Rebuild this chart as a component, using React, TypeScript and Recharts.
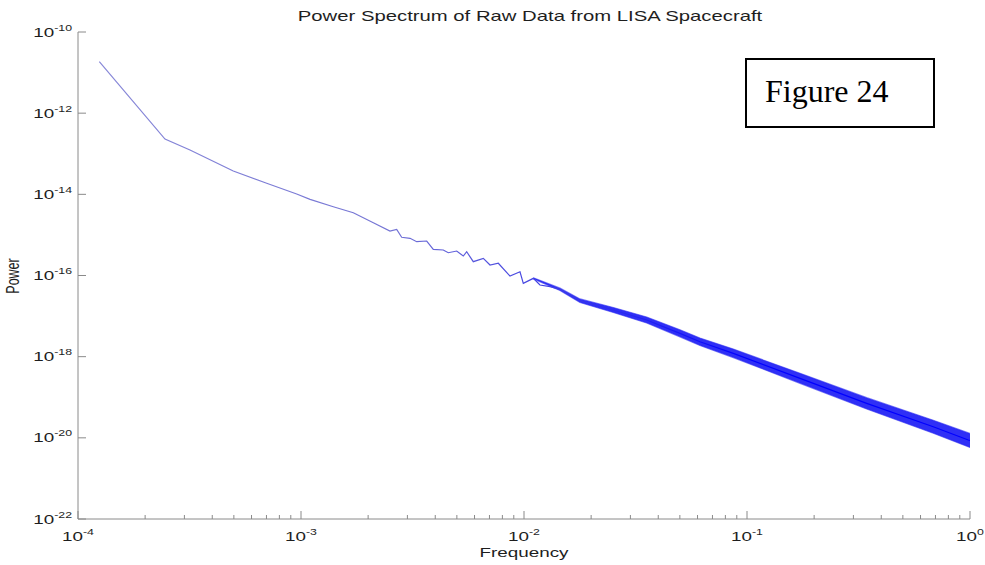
import { ComposedChart, Line, Area, XAxis, YAxis, Customized } from "recharts";

// Values (log-log power spectrum)
const freq = [
  1.246e-4, 2.455e-4, 3.178e-4, 4.969e-4, 7.016e-4, 9.565e-4, 1.098e-3, 1.396e-3,
  1.716e-3, 2.11e-3, 2.506e-3, 2.686e-3, 2.828e-3, 3.083e-3, 3.303e-3, 3.662e-3,
  3.92e-3, 4.345e-3, 4.575e-3, 4.992e-3, 5.342e-3, 5.533e-3, 5.923e-3, 6.57e-3,
  7.04e-3, 7.67e-3, 8.653e-3, 9.596e-3, 9.929e-3, 1.101e-2, 1.179e-2, 1.308e-2,
  1.45e-2, 1.783e-2, 2.515e-2, 3.549e-2, 5.005e-2, 6.153e-2, 8.682e-2, 0.1729,
  0.3441, 0.6844, 0.9826, 1.0,
];
const power = [
  1.854e-11, 2.307e-13, 1.236e-13, 3.757e-14, 1.87e-14, 1.018e-14, 7.54e-15, 4.954e-15,
  3.524e-15, 1.999e-15, 1.248e-15, 1.374e-15, 8.73e-16, 8.24e-16, 6.8e-16, 7.08e-16,
  4.42e-16, 4.25e-16, 3.64e-16, 4.01e-16, 3.02e-16, 3.86e-16, 2.19e-16, 2.65e-16,
  1.81e-16, 2.0e-16, 9.7e-17, 1.239e-16, 6.41e-17, 8.51e-17, 5.82e-17, 5.3e-17,
  4.56e-17, 2.39e-17, 1.41e-17, 7.99e-18, 3.76e-18, 2.33e-18, 1.208e-18, 2.92e-19,
  7.08e-20, 1.877e-20, 8.82e-21, 8.6e-21,
];

// spread of the noisy high-frequency part
const bandFreq = [1.101e-2, 1.45e-2, 1.783e-2, 2.515e-2, 3.549e-2, 5.005e-2, 6.153e-2, 8.682e-2, 0.1729, 0.3441, 0.6844, 1.0];
const bandLow = [8.27e-17, 4.26e-17, 2.16e-17, 1.224e-17, 6.74e-18, 3.08e-18, 1.88e-18, 9.5e-19, 2.2e-19, 5.13e-20, 1.3e-20, 5.78e-21];
const bandHigh = [8.75e-17, 4.88e-17, 2.65e-17, 1.624e-17, 9.47e-18, 4.59e-18, 2.89e-18, 1.536e-18, 3.88e-19, 9.77e-20, 2.71e-20, 1.28e-20];

const xTicks = [
  0.0001, 0.0002, 0.0003, 0.0004, 0.0005, 0.0006, 0.0007, 0.0008, 0.0009,
  0.001, 0.002, 0.003, 0.004, 0.005, 0.006, 0.007, 0.008, 0.009,
  0.01, 0.02, 0.03, 0.04, 0.05, 0.06, 0.07, 0.08, 0.09,
  0.1, 0.2, 0.3, 0.4, 0.5, 0.6, 0.7, 0.8, 0.9, 1,
];
const yTicks = [1e-22, 1e-20, 1e-18, 1e-16, 1e-14, 1e-12, 1e-10];

const TITLE = "Power Spectrum of Raw Data from LISA Spacecraft";
const X_LABEL = "Frequency";
const Y_LABEL = "Power";
const NOTE = "Figure 24";

const AXIS = "#8a8a8a";
const TEXT = "#1e1e1e";
const FONT = "'Liberation Sans', Arial, sans-serif";
const STRETCH = 1.45;

const lineData = freq.map((f, i) => ({ f, p: power[i] }));
const bandData = bandFreq.map((f, i) => ({ f, band: [bandLow[i], bandHigh[i]] }));

const isMajor = (v: number) => Math.abs(Math.log10(v) - Math.round(Math.log10(v))) < 1e-6;
const expOf = (v: number) => String(Math.round(Math.log10(v)));

function BottomTick(props: any) {
  const { x, y, payload } = props;
  const major = isMajor(payload.value);
  return (
    <g>
      <line x1={x} y1={y} x2={x} y2={y - (major ? 8 : 4)} stroke={AXIS} />
      {major && (
        <text
          transform={`translate(${x},${y + 22}) scale(${STRETCH},1)`}
          textAnchor="middle"
          fontSize={13}
          fontFamily={FONT}
          fill={TEXT}
        >
          10<tspan dy={-6} fontSize={8.5}>{expOf(payload.value)}</tspan>
        </text>
      )}
    </g>
  );
}

function TopTick(props: any) {
  const { x, y, payload } = props;
  const major = isMajor(payload.value);
  return <line x1={x} y1={y} x2={x} y2={y + (major ? 8 : 4)} stroke={AXIS} />;
}

function LeftTick(props: any) {
  const { x, y, payload } = props;
  return (
    <g>
      <line x1={x} y1={y} x2={x + 8} y2={y} stroke={AXIS} />
      <text
        transform={`translate(${x - 6},${y + 4.5}) scale(${STRETCH},1)`}
        textAnchor="end"
        fontSize={13}
        fontFamily={FONT}
        fill={TEXT}
      >
        10<tspan dy={-6} fontSize={8.5}>{expOf(payload.value)}</tspan>
      </text>
    </g>
  );
}

function RightTick(props: any) {
  const { x, y } = props;
  return <line x1={x} y1={y} x2={x - 8} y2={y} stroke={AXIS} />;
}

function Decorations() {
  return (
    <g>
      <defs>
        <linearGradient id="specGrad" gradientUnits="userSpaceOnUse" x1={78} y1={0} x2={970} y2={0}>
          <stop offset="0" stopColor="#8a8ad8" />
          <stop offset="0.35" stopColor="#7474d4" />
          <stop offset="0.55" stopColor="#3a3ae6" />
          <stop offset="0.75" stopColor="#0000ff" />
          <stop offset="1" stopColor="#0000ff" />
        </linearGradient>
      </defs>
      <text
        transform={`translate(530,21) scale(${STRETCH},1)`}
        textAnchor="middle"
        fontSize={14}
        fontFamily={FONT}
        fill={TEXT}
      >
        {TITLE}
      </text>
      <text
        transform={`translate(524,557) scale(${STRETCH},1)`}
        textAnchor="middle"
        fontSize={13}
        fontFamily={FONT}
        fill={TEXT}
      >
        {X_LABEL}
      </text>
      <text
        transform={`translate(19,276) scale(${STRETCH},1) rotate(-90)`}
        textAnchor="middle"
        fontSize={12.5}
        fontFamily={FONT}
        fill={TEXT}
      >
        {Y_LABEL}
      </text>
      <rect x={746} y={59} width={188} height={68} fill="#fff" stroke="#000" strokeWidth={2} />
      <text x={765} y={102} fontSize={32} fontFamily="'Liberation Serif', 'Times New Roman', serif" fill="#000">
        {NOTE}
      </text>
    </g>
  );
}

export default function App() {
  return (
    <div style={{ position: "absolute", left: 0, top: 0, width: 985, height: 565, background: "#fff" }}>
      <ComposedChart width={985} height={565} margin={{ top: 32, right: 15, bottom: 0, left: 0 }}>
        <XAxis
          dataKey="f"
          type="number"
          scale="log"
          domain={[1e-4, 1]}
          allowDataOverflow
          ticks={xTicks}
          interval={0}
          height={46}
          tickSize={0}
          tickMargin={0}
          tickLine={false}
          axisLine={{ stroke: AXIS }}
          tick={<BottomTick />}
        />
        <XAxis
          xAxisId="top"
          orientation="top"
          dataKey="f"
          type="number"
          scale="log"
          domain={[1e-4, 1]}
          allowDataOverflow
          ticks={xTicks}
          interval={0}
          height={0}
          tickSize={0}
          tickMargin={0}
          tickLine={false}
          axisLine={{ stroke: AXIS }}
          tick={<TopTick />}
        />
        <YAxis
          type="number"
          scale="log"
          domain={[1e-22, 1e-10]}
          allowDataOverflow
          ticks={yTicks}
          interval={0}
          width={78}
          tickSize={0}
          tickMargin={0}
          tickLine={false}
          axisLine={{ stroke: AXIS }}
          tick={<LeftTick />}
        />
        <YAxis
          yAxisId="right"
          orientation="right"
          type="number"
          scale="log"
          domain={[1e-22, 1e-10]}
          allowDataOverflow
          ticks={yTicks}
          interval={0}
          width={0}
          tickSize={0}
          tickMargin={0}
          tickLine={false}
          axisLine={{ stroke: AXIS }}
          tick={<RightTick />}
        />
        <Area
          data={bandData}
          dataKey="band"
          type="linear"
          stroke="#2a2af0"
          strokeOpacity={0.6}
          strokeWidth={1.2}
          fill="#0a0af4"
          fillOpacity={0.85}
          isAnimationActive={false}
        />
        <Line
          data={lineData}
          dataKey="p"
          type="linear"
          stroke="url(#specGrad)"
          strokeWidth={1.2}
          dot={false}
          isAnimationActive={false}
        />
        <Customized component={Decorations} />
      </ComposedChart>
    </div>
  );
}
